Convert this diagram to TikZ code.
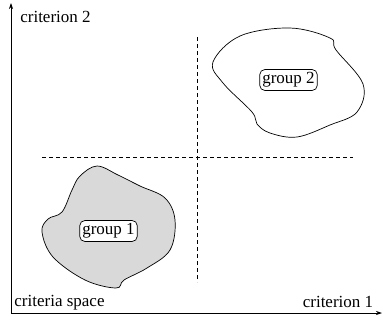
\documentclass[tikz,border=0pt]{standalone}
\usepackage{fontspec}
\setmainfont{Liberation Serif}
\usetikzlibrary{arrows.meta}

\tikzset{
	lbl/.style={font=\fontsize{17}{20}\selectfont, inner sep=0pt},
	grp/.style={draw, line width=0.7pt, rounded corners=5pt, fill=white, inner xsep=2.5pt, inner ysep=3pt, font=\fontsize{17}{20}\selectfont},
	sep/.style={dashed, dash pattern=on 4pt off 3pt, line width=0.6pt}
}

\begin{document}
\begin{tikzpicture}[x=1pt, y=-1pt]
			%%%%% START %%%%%
			\useasboundingbox (0, 0) rectangle (383, 322);
			
			\coordinate (O) at (11, 313);
			\coordinate (xend) at (382, 313);
			\coordinate (yend) at (11, 3);
			\draw[line width=0.7pt, -{Stealth[length=6pt, width=4pt]}] (O) -- (xend);
			\draw[line width=0.7pt, -{Stealth[length=6pt, width=4pt]}] (O) -- (yend);
			
			\node[lbl] (c2) at (55.5, 17) {criterion 2};
			\node[lbl] (c1) at (338, 302) {criterion 1};
			\node[lbl] (cs) at (59.5, 303) {criteria space};
			
			\coordinate (vtop) at (197, 37);
			\coordinate (vbot) at (197, 282);
			\coordinate (hleft) at (42, 157);
			\coordinate (hright) at (353, 157);
			\draw[sep] (vtop) -- (vbot);
			\draw[sep] (hleft) -- (hright);
			
			% group 2
			\draw[line width=0.7pt] plot[smooth cycle, tension=0.6] coordinates {
				(213, 62) (240, 36) (290, 28) (330, 38) (336, 50) (363, 84)
				(357, 112) (330, 125) (297, 137) (270, 133) (257, 124) (252, 112)
				(223, 83)};
			\node[grp] (g2) at (288.5, 80) {group 2};
			
			% group 1
			\draw[line width=0.7pt, fill=black!15] plot[smooth cycle, tension=0.6] coordinates {
				(97, 166) (80, 176) (72, 190) (62, 212) (48, 219) (42, 232)
				(53, 257) (85, 280) (116, 288) (124, 280) (147, 268) (170, 250)
				(175, 220) (165, 198) (140, 186) (118, 175)};
			\node[grp] (g1) at (108.5, 231) {group 1};
			%%%%% END %%%%%
\end{tikzpicture}
\end{document}
